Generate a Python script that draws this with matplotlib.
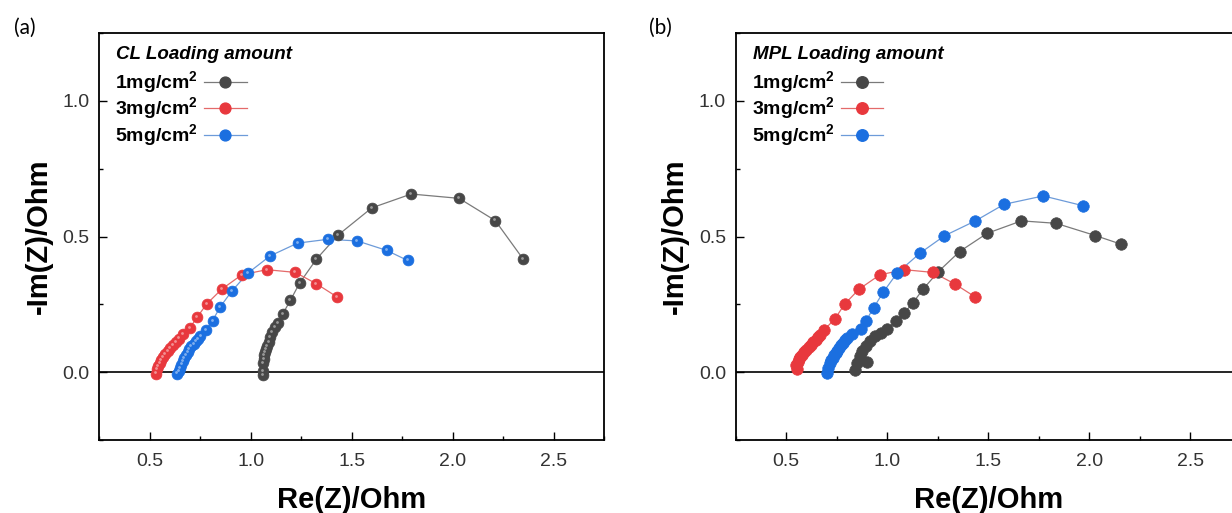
import matplotlib
matplotlib.use('Agg')
import matplotlib.pyplot as plt
from matplotlib.transforms import offset_copy
from matplotlib.ticker import MultipleLocator

plt.rcParams['font.family'] = ['Liberation Sans', 'DejaVu Sans']
plt.rcParams['mathtext.fontset'] = 'custom'
plt.rcParams['mathtext.rm'] = 'Liberation Sans'
plt.rcParams['mathtext.bf'] = 'Liberation Sans:bold'

# (a) CL loading amount
cl_1_re = [1.063, 1.063, 1.062, 1.065, 1.068, 1.072, 1.077, 1.083, 1.090, 1.098, 1.108, 1.120,
           1.135, 1.160, 1.197, 1.243, 1.326, 1.432, 1.600, 1.795, 2.032, 2.211, 2.349]
cl_1_im = [-0.012, 0.005, 0.035, 0.050, 0.062, 0.075, 0.086, 0.098, 0.112, 0.130, 0.148, 0.165,
           0.180, 0.216, 0.265, 0.329, 0.417, 0.505, 0.606, 0.657, 0.641, 0.559, 0.417]
cl_3_re = [0.533, 0.537, 0.543, 0.550, 0.558, 0.567, 0.578, 0.590, 0.603, 0.617, 0.632, 0.648,
           0.667, 0.699, 0.735, 0.782, 0.857, 0.956, 1.080, 1.221, 1.326, 1.429]
cl_3_im = [-0.005, 0.010, 0.022, 0.033, 0.044, 0.055, 0.066, 0.077, 0.088, 0.100, 0.112, 0.124,
           0.140, 0.163, 0.202, 0.251, 0.306, 0.359, 0.378, 0.368, 0.326, 0.277]
cl_5_re = [0.636, 0.645, 0.651, 0.658, 0.664, 0.671, 0.679, 0.688, 0.697, 0.707, 0.718, 0.729,
           0.740, 0.752, 0.779, 0.812, 0.848, 0.906, 0.986, 1.097, 1.233, 1.382, 1.528, 1.674, 1.777]
cl_5_im = [-0.005, 0.005, 0.016, 0.028, 0.040, 0.053, 0.063, 0.074, 0.085, 0.096, 0.105, 0.114,
           0.123, 0.132, 0.154, 0.190, 0.239, 0.298, 0.365, 0.429, 0.476, 0.490, 0.484, 0.449, 0.412]

# (b) MPL loading amount
mpl_1_re = [0.840, 0.852, 0.902, 0.865, 0.877, 0.893, 0.915, 0.940, 0.968, 1.001, 1.043,
            1.084, 1.126, 1.178, 1.253, 1.358, 1.494, 1.664, 1.835, 2.029, 2.157]
mpl_1_im = [0.007, 0.034, 0.037, 0.059, 0.077, 0.096, 0.114, 0.132, 0.145, 0.160, 0.188,
            0.218, 0.255, 0.307, 0.371, 0.445, 0.512, 0.558, 0.549, 0.504, 0.472]
mpl_3_re = [0.553, 0.550, 0.556, 0.561, 0.569, 0.578, 0.589, 0.600, 0.612, 0.623, 0.634, 0.645,
            0.657, 0.669, 0.689, 0.741, 0.789, 0.860, 0.963, 1.084, 1.225, 1.333, 1.436]
mpl_3_im = [0.012, 0.028, 0.038, 0.047, 0.056, 0.065, 0.074, 0.083, 0.092, 0.102, 0.111, 0.120,
            0.130, 0.139, 0.157, 0.197, 0.251, 0.306, 0.359, 0.378, 0.368, 0.326, 0.277]
mpl_5_re = [0.703, 0.708, 0.716, 0.722, 0.729, 0.736, 0.744, 0.752, 0.760, 0.771, 0.782, 0.792,
            0.802, 0.827, 0.868, 0.895, 0.932, 0.981, 1.048, 1.162, 1.283, 1.436, 1.578, 1.772, 1.968]
mpl_5_im = [-0.002, 0.016, 0.035, 0.044, 0.053, 0.062, 0.071, 0.080, 0.090, 0.099, 0.108, 0.117,
            0.126, 0.141, 0.160, 0.190, 0.237, 0.296, 0.365, 0.439, 0.503, 0.558, 0.619, 0.650, 0.614]

labels = [r'1mg/cm$^\mathbf{2}$', r'3mg/cm$^\mathbf{2}$', r'5mg/cm$^\mathbf{2}$']
marker_colors = ['#474747', '#e8383d', '#1b6fe0']
line_colors = ['#7a7a7a', '#e46a6a', '#6d9bd9']

fig = plt.figure(figsize=(12.32, 5.13), dpi=100)
ax1 = fig.add_axes([0.0804, 0.1423, 0.410, 0.793])
ax2 = fig.add_axes([0.5972, 0.1423, 0.410, 0.793])


def style_axes(ax):
    ax.set_xlim(0.25, 2.75)
    ax.set_ylim(-0.25, 1.25)
    ax.xaxis.set_major_locator(MultipleLocator(0.5))
    ax.xaxis.set_minor_locator(MultipleLocator(0.25))
    ax.yaxis.set_major_locator(MultipleLocator(0.5))
    ax.yaxis.set_minor_locator(MultipleLocator(0.25))
    ax.set_yticks([0.0, 0.5, 1.0])
    ax.tick_params(which='both', direction='in', width=1.0, colors='black',
                   labelcolor='#333333', labelsize=14)
    ax.tick_params(which='major', length=6)
    ax.tick_params(which='minor', length=3)
    ax.tick_params(axis='x', pad=9)
    ax.tick_params(axis='y', pad=7)
    for sp in ax.spines.values():
        sp.set_linewidth(1.3)
    ax.axhline(0, color='black', lw=1.2, zorder=1)
    ax.set_xlabel('Re(Z)/Ohm', fontsize=21, fontweight='bold', labelpad=12)
    ax.set_ylabel('-Im(Z)/Ohm', fontsize=21, fontweight='bold', labelpad=7)


def draw_series(ax, data, shiny, ms):
    hl = offset_copy(ax.transData, fig=fig, x=-0.7, y=0.8, units='points')
    for (re, im), lab, mc, lc in zip(data, labels, marker_colors, line_colors):
        ax.plot(re, im, '-', color=lc, lw=0.9, zorder=2)
        ax.plot(re, im, 'o', color=mc, ms=ms, mec=mc, mew=0.5, zorder=3)
        if shiny:
            ax.plot(re, im, 'o', color='white', ms=2.0, mew=0, alpha=0.45,
                    transform=hl, zorder=4)
        # legend handle: line with marker
        ax.plot([], [], '-o', color=lc, lw=0.9, mfc=mc, mec=mc, ms=ms, label=lab)


def add_legend(ax, title):
    ax.text(0.034, 0.948, title, transform=ax.transAxes, va='center', ha='left',
            fontsize=13.5, fontweight='bold', fontstyle='italic')
    leg = ax.legend(loc='upper left', bbox_to_anchor=(0.032, 0.912), frameon=False,
                    borderaxespad=0, borderpad=0, markerfirst=False,
                    handlelength=2.2, handletextpad=0.3, labelspacing=0.0,
                    prop={'size': 14, 'weight': 'bold'})
    return leg


style_axes(ax1)
draw_series(ax1, [(cl_1_re, cl_1_im), (cl_3_re, cl_3_im), (cl_5_re, cl_5_im)], True, 7.8)
add_legend(ax1, 'CL Loading amount')

style_axes(ax2)
draw_series(ax2, [(mpl_1_re, mpl_1_im), (mpl_3_re, mpl_3_im), (mpl_5_re, mpl_5_im)], False, 8.3)
add_legend(ax2, 'MPL Loading amount')

fig.text(25 / 1232, 1 - 28 / 513, '(a)', fontsize=15, family='Lato', va='center', ha='center')
fig.text(660 / 1232, 1 - 28 / 513, '(b)', fontsize=15, family='Lato', va='center', ha='center')

fig.savefig('out.png', dpi=100)
